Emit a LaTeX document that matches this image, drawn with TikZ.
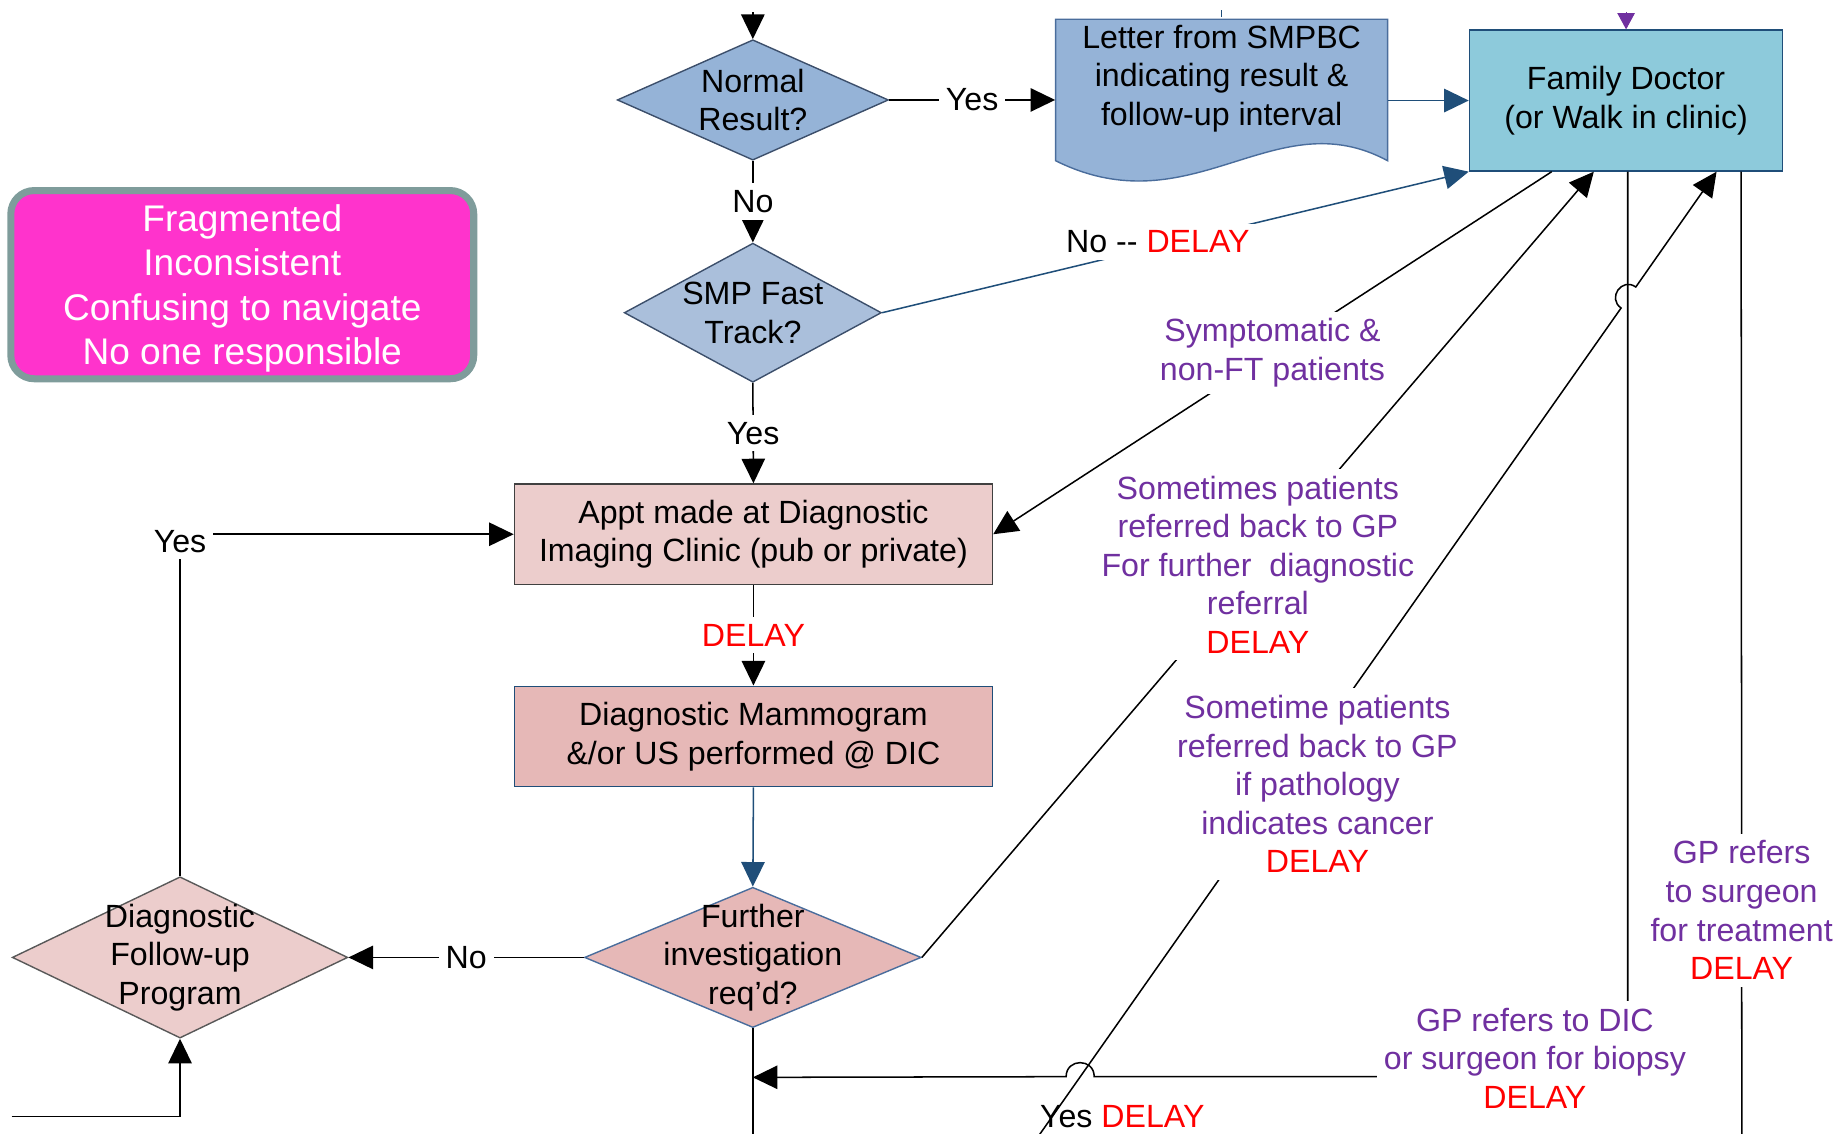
\documentclass[tikz,border=0pt]{standalone}
\usepackage{fontspec}
\setmainfont{Liberation Sans}
\usepackage{tikz}
\usetikzlibrary{shapes.geometric}
\usetikzlibrary{arrows.meta}
\usetikzlibrary{calc}
\definecolor{nrblue}{HTML}{95B3D7}
\definecolor{smpblue}{HTML}{AABFDB}
\definecolor{fdcyan}{HTML}{8DCADB}
\definecolor{apptpink}{HTML}{ECCDCC}
\definecolor{mampink}{HTML}{E6B8B7}
\definecolor{issuepink}{HTML}{FF33CC}
\definecolor{issueedge}{HTML}{7F9C9B}
\definecolor{gppurple}{HTML}{7030A0}
\definecolor{linkblue}{HTML}{1F4E79}
\definecolor{diaedge}{HTML}{3C4F6B}
\definecolor{letteredge}{HTML}{4A6D9C}
\tikzset{
  txt/.style={font=\fontsize{13.75}{16.5}\selectfont,align=center},
  boxnode/.style={txt,rectangle,draw,line width=0.6pt},
  decision/.style={diamond,draw,line width=0.6pt,inner sep=0pt},
  lbl/.style={txt,fill=white,inner sep=3pt,text=black},
  plbl/.style={lbl,text=gppurple},
  wire/.style={line width=0.65pt},
  arr/.style={wire,-{Triangle[length=10.5pt,width=10pt]}},
}

\begin{document}
\begin{tikzpicture}[x=0.5pt,y=-0.5pt]
        \useasboundingbox (0,0) rectangle (1568,969.2);
        \node[txt,rounded corners=10pt,line width=3pt,draw=issueedge,fill=issuepink,text=white,font=\fontsize{15.85}{19}\selectfont,minimum width=198pt,minimum height=80.5pt,text depth=0pt] (issues) at (207.25,243.5) {Fragmented\\Inconsistent\\Confusing to navigate\\No one responsible};
        \node[decision,fill=nrblue,draw=diaedge,minimum width=116pt,minimum height=51.5pt,label={[txt]center:Normal\\Result?}] (nr) at (644,85.5) {};
        \node[decision,fill=smpblue,draw=diaedge,minimum width=110pt,minimum height=59.5pt,label={[txt]center:SMP Fast\\Track?}] (smp) at (644,267.5) {};
        \node[boxnode,fill=apptpink,draw=black!75,minimum width=204.5pt,minimum height=43pt] (appt) at (644.5,457) {Appt made at Diagnostic\\Imaging Clinic (pub or private)};
        \node[boxnode,fill=mampink,draw=linkblue,minimum width=204.5pt,minimum height=43pt] (mam) at (644.5,630) {Diagnostic Mammogram\\\&/or US performed @ DIC};
        \node[decision,fill=mampink,draw=letteredge,minimum width=144pt,minimum height=60pt,label={[txt]center:Further\\investigation\\req’d?}] (fi) at (644,819) {};
        \node[decision,fill=apptpink,draw=black!65,minimum width=143.5pt,minimum height=69pt,label={[txt]center:Diagnostic\\Follow-up\\Program}] (dfp) at (154,819) {};
        \draw[fill=nrblue,draw=letteredge,line width=0.6pt] (903,16.5)--(1187,16.5)--(1187,137.5) .. controls (1090,85) and (1020,195.5) .. (903,137.5)--cycle;
        \node[txt,minimum width=142pt,minimum height=50.5pt] (letter) at (1045,67) {Letter from SMPBC\\indicating result \&\\follow-up interval};
        \node[boxnode,fill=fdcyan,draw=linkblue,minimum width=134pt,minimum height=60.25pt] (fd) at (1391,86) {Family Doctor\\(or Walk in clinic)};
        \coordinate (inl) at (10,955);
        \coordinate (btm) at (644,978);
        \coordinate (lc) at (884,978);
        \coordinate (rbtm) at (1490,978);

        \draw[arr] ($(nr.north)+(0,-23)$)--(nr.north);
        \draw[arr] (nr.east)--node[lbl]{Yes}(nr -| letter.west);
        \draw[arr,linkblue] (letter.east |- fd.west)--(fd.west);
        \draw[wire,linkblue] (letter.north)--++(0,-6);
        \draw[gppurple,-{Triangle[length=7pt,width=7.5pt]}] ($(fd.north)+(0,-14.5)$)--(fd.north);
        \draw[arr] (nr.south)--node[lbl]{No}(smp.north);
        \draw[arr] (smp.south)--node[lbl]{Yes}(appt.north);
        \draw[arr] (appt.south)--node[lbl,text=red]{DELAY}(mam.north);
        \draw[arr,linkblue] (mam.south)--(fi.north);
        \draw[arr] (fi.west)--node[lbl]{No}(dfp.east);
        \draw[arr] (dfp.north)|-node[lbl,yshift=-3pt]{Yes}(appt.west);
        \draw[arr] (inl)-|(dfp.south);
        \draw[wire] (fi.south)--(btm);
        \draw[arr,linkblue] (smp.east)--node[lbl,pos=0.47,yshift=2pt]{No -{}- \textcolor{red}{DELAY}}(fd.south west);
        \draw[arr] ($(fd.south west)+(71,0)$)--node[plbl]{Symptomatic \&\\non-FT patients}(appt.east);
        \draw[arr] (fi.east)--node[plbl]{Sometimes patients\\referred back to GP\\For further\ \ diagnostic\\referral\\\textcolor{red}{DELAY}}($(fd.south west)+(107,0)$);
        \draw[arr] ($(fd.south west)+(136,0)$)|-(936,921) .. controls (936,905) and (912,905) .. (912,921)--($(fi.south)+(0,42)$);
        \node[plbl] (gpdic) at (1313,905) {GP refers to DIC\\or surgeon for biopsy\\\textcolor{red}{DELAY}};
        \draw[arr] (lc)--node[plbl,pos=0.43,xshift=13.4pt]{Sometime patients\\referred back to GP\\if pathology\\indicates cancer\\\textcolor{red}{DELAY}}(1386.7,263.5) .. controls (1374.7,255) and (1387.3,237) .. (1399.3,245.5)--($(fd.south west)+(212,0)$);
        \draw[wire] ($(fd.south west)+(233,0)$)--node[plbl,pos=0.76]{GP refers\\to surgeon\\for treatment\\\textcolor{red}{DELAY}}(rbtm);
        \node[txt] (yesdelay) at (960,955) {Yes \textcolor{red}{DELAY}};
\end{tikzpicture}
\end{document}
